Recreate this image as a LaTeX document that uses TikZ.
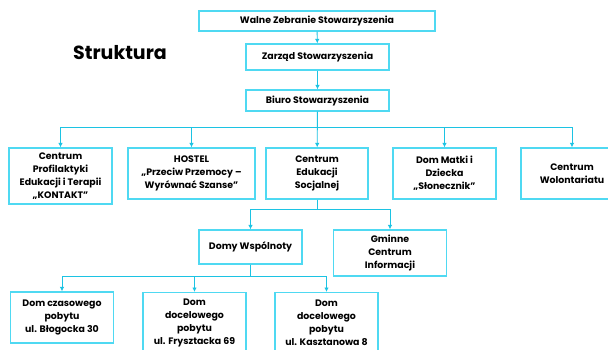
\documentclass[tikz,border=0pt]{standalone}
\usepackage{fontspec}
\setmainfont{Poppins}
\usetikzlibrary{arrows.meta,positioning}
\definecolor{boxcyan}{HTML}{4FD9F2}
\definecolor{linecyan}{HTML}{1CC3E3}
\tikzset{unit/.style={rectangle,draw=boxcyan,line width=1.2pt,fill=white,align=center,inner sep=0pt,
                      font=\fontsize{9.4}{13}\selectfont\bfseries,text=black},
         conn/.style={draw=linecyan,line width=0.9pt,->}
}
\begin{document}
\begin{tikzpicture}[x=1pt,y=-1pt,>={Latex[length=4.5pt,width=4.5pt]}]
\clip (0,0) rectangle (608,349);
\fill[white] (0,0) rectangle (608,349);
\node [font=\fontsize{19}{22}\selectfont\bfseries] (title) at (120,53) {Struktura};
% gorne szczeble
\node [unit,minimum width=236pt,minimum height=20pt] (walne) at (317,21) {Walne Zebranie Stowarzyszenia};
\node [unit,minimum width=143pt,minimum height=26pt] (zarzad) at (317.5,57) {Zarząd Stowarzyszenia};
\node [unit,minimum width=143pt,minimum height=21pt] (biuro) at (317.5,100.5) {Biuro Stowarzyszenia};
% placowki
\node [unit,minimum width=103pt,minimum height=56pt] (c1) at (60.5,176) {Centrum\\Profilaktyki\\Edukacji i Terapii\\„KONTAKT”};
\node [unit,minimum width=127pt,minimum height=51pt] (c2) at (191.5,173.5) {HOSTEL\\„Przeciw Przemocy –\\Wyrównać Szanse”};
\node [unit,minimum width=102pt,minimum height=51pt] (c3) at (317,173.5) {Centrum\\Edukacji\\Socjalnej};
\node [unit,minimum width=103pt,minimum height=51pt] (c4) at (444.5,173.5) {Dom Matki i\\Dziecka\\„Słonecznik”};
\node [unit,minimum width=102pt,minimum height=51pt] (c5) at (572,173.5) {Centrum\\Wolontariatu};
% Centrum Edukacji Socjalnej
\node [unit,minimum width=103pt,minimum height=34pt] (domy) at (250.5,247) {Domy Wspólnoty};
\node [unit,minimum width=113pt,minimum height=46pt] (gci) at (390,253) {Gminne\\Centrum\\Informacji};
% domy
\node [unit,minimum width=103pt,minimum height=51pt] (d1) at (62,317.5) {Dom czasowego\\pobytu\\ul. Błogocka 30};
\node [unit,minimum width=103pt,minimum height=60pt,anchor=north] (d2) at (194.5,292) {Dom\\docelowego\\pobytu\\ul. Frysztacka 69};
\node [unit,minimum width=103pt,minimum height=60pt,anchor=north] (d3) at (326.5,292) {Dom\\docelowego\\pobytu\\ul. Kasztanowa 8};

\draw [conn] (walne) -- (zarzad);
\draw [conn] (zarzad) -- (biuro);
\foreach \n in {c1,c2,c4,c5}
    \draw [conn] (biuro.south) -- ++(0,16) -| (\n.north);
\draw [conn] (biuro) -- (c3);
\foreach \n in {domy,gci}
    \draw [conn] (c3.south) -- ++(0,10) -| (\n.north);
\foreach \n in {d1,d2,d3}
    \draw [conn] (domy.south) -- ++(0,12) -| (\n.north);
\end{tikzpicture}
\end{document}
